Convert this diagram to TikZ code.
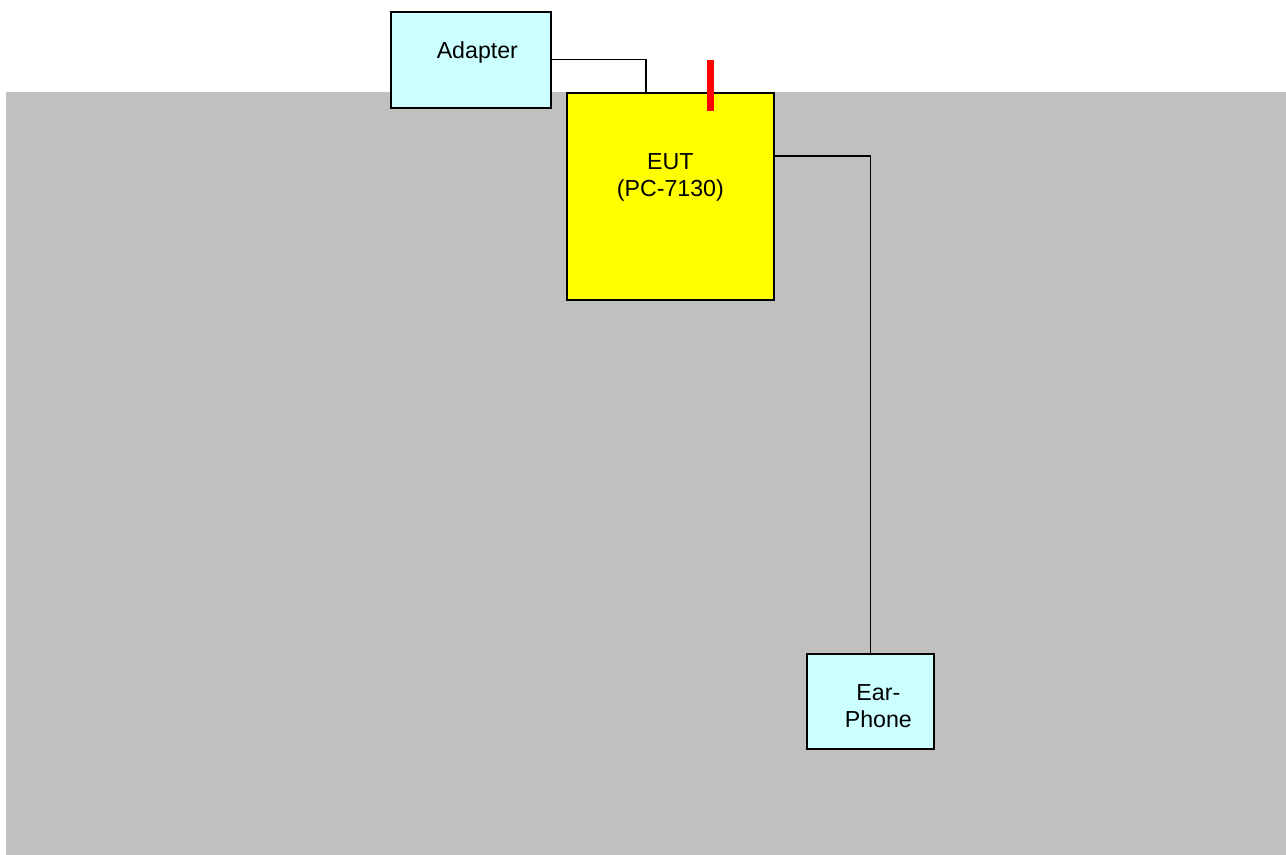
\documentclass[tikz,border=0pt]{standalone}
\usepackage{fontspec}
\setmainfont{Liberation Sans}
\usetikzlibrary{positioning}
\definecolor{floorgray}{RGB}{192,192,192}
\definecolor{devcyan}{RGB}{204,255,255}
\definecolor{eutyellow}{RGB}{255,255,0}

\begin{document}
\begin{tikzpicture}[x=0.02cm, y=-0.02cm,
  box/.style={rectangle, draw, line width=1pt, anchor=north west, inner sep=0pt},
  txt/.style={font=\fontsize{13.2}{15.5}\selectfont, align=center},
  cable/.style={draw, line width=0.6pt}
]
  \useasboundingbox (0,0) rectangle (1286,855);
  \fill[floorgray] (6,92) rectangle (1286,855);

  \node[box, fill=devcyan, minimum width=3.2cm, minimum height=1.92cm,
        label={[txt, xshift=0.13cm, yshift=0.14cm]center:Adapter}] (adapter) at (390,11) {};
  \node[box, fill=eutyellow, minimum width=4.14cm, minimum height=4.14cm,
        label={[txt, yshift=0.38cm]center:EUT\\(PC-7130)}] (eut) at (566,92) {};
  \node[box, fill=devcyan, minimum width=2.54cm, minimum height=1.9cm,
        label={[txt, xshift=0.16cm, yshift=-0.1cm]center:Ear-\\Phone}] (phone) at (806,653) {};

  % antenna
  \fill[red] (707,60) rectangle (714,111);

  \coordinate (dcin) at (646,92);
  \coordinate (audioout) at (774,156);
  \draw[cable] (adapter.east) -| (dcin);
  \draw[cable] (audioout) -| (phone.north);
\end{tikzpicture}
\end{document}
